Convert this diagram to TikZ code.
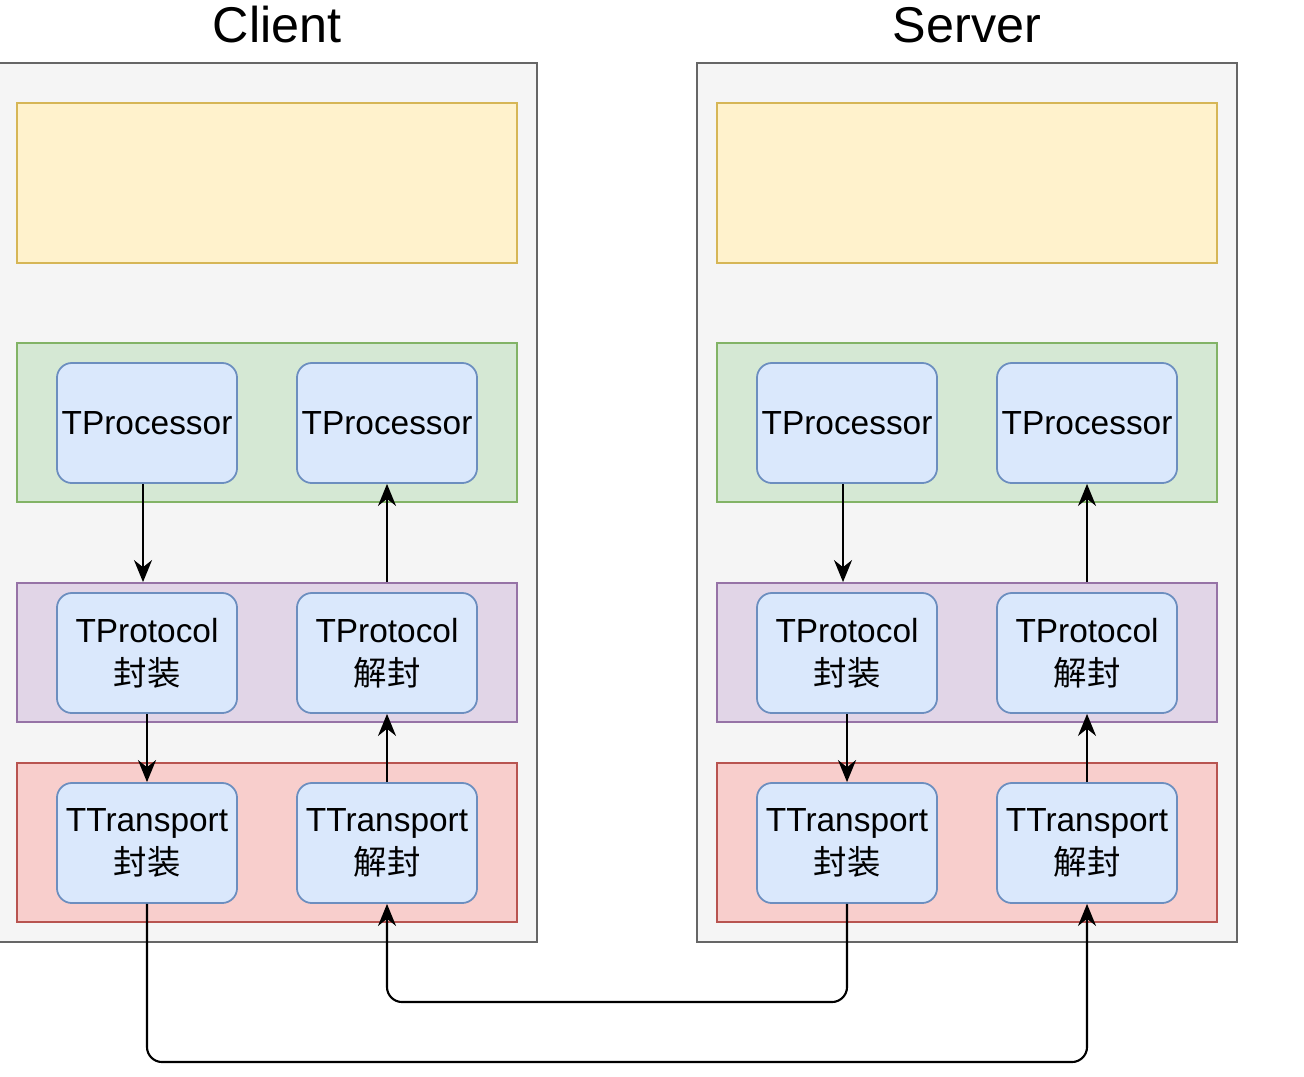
\documentclass[tikz,border=0pt]{standalone}
\usepackage{fontspec}
\setmainfont{Liberation Sans}
\newfontfamily\cjk{Noto Sans CJK SC}
\usetikzlibrary{calc,arrows.meta}

\definecolor{panelfill}{HTML}{F5F5F5}\definecolor{panelline}{HTML}{666666}
\definecolor{yellowfill}{HTML}{FFF2CC}\definecolor{yellowline}{HTML}{D6B656}
\definecolor{greenfill}{HTML}{D5E8D4}\definecolor{greenline}{HTML}{82B366}
\definecolor{purplefill}{HTML}{E1D5E7}\definecolor{purpleline}{HTML}{9673A6}
\definecolor{redfill}{HTML}{F8CECC}\definecolor{redline}{HTML}{B85450}
\definecolor{bluefill}{HTML}{DAE8FC}\definecolor{blueline}{HTML}{6C8EBF}

\tikzset{
  panel/.style={draw=panelline,fill=panelfill,line width=0.6pt,minimum width=5.4cm,minimum height=8.79cm},
  layer/.style={draw=#1line,fill=#1fill,line width=0.5pt,minimum width=5cm},
  block/.style={draw=blueline,fill=bluefill,line width=0.5pt,rounded corners=1.5mm,inner xsep=0pt,
    minimum width=1.8cm,minimum height=1.2cm,align=center,font=\fontsize{9.5}{12.2}\selectfont},
  link/.style={-{Stealth[length=2.2mm,width=1.8mm]},line width=0.6pt},
  title/.style={font=\fontsize{14.3}{17}\selectfont}
}

\begin{document}
\begin{tikzpicture}[x=0.01cm,y=-0.01cm]
\useasboundingbox (0,0) rectangle (1304,1076);

\node[title] (client) at (277,25) {Client};
\node[title] (server) at (967,25) {Server};

\foreach \s/\x in {c/0,s/700}{
  \node[panel] (\s-panel) at (267+\x,502.5) {};
  \node[layer=yellow,minimum height=1.6cm] (\s-app) at (267+\x,183) {};
  \node[layer=green,minimum height=1.59cm] (\s-proc) at (267+\x,422.5) {};
  \node[layer=purple,minimum height=1.39cm] (\s-prot) at (267+\x,652.5) {};
  \node[layer=red,minimum height=1.59cm] (\s-trans) at (267+\x,842.5) {};

  \node[block] (\s-procL) at (147+\x,423) {TProcessor};
  \node[block] (\s-procR) at (387+\x,423) {TProcessor};
  \node[block] (\s-protL) at (147+\x,653) {TProtocol\\{\cjk 封装}};
  \node[block] (\s-protR) at (387+\x,653) {TProtocol\\{\cjk 解封}};
  \node[block] (\s-transL) at (147+\x,843) {TTransport\\{\cjk 封装}};
  \node[block] (\s-transR) at (387+\x,843) {TTransport\\{\cjk 解封}};

  \draw[link] ($(\s-procL.south)-(4,0)$) -- ($(\s-procL.south |- \s-prot.north)-(4,0)$);
  \draw[link] (\s-procR.south |- \s-prot.north) -- (\s-procR.south);
  \draw[link] (\s-protL.south) -- (\s-transL.north);
  \draw[link] (\s-transR.north) -- (\s-protR.south);
}

% wire between the two sides
\coordinate (lowA) at (0,1002);
\coordinate (lowB) at (0,1062);
\draw[link,rounded corners=1.5mm] (s-transL.south) -- (s-transL.south |- lowA) -- (c-transR.south |- lowA) -- (c-transR.south);
\draw[link,rounded corners=1.5mm] (c-transL.south) -- (c-transL.south |- lowB) -- (s-transR.south |- lowB) -- (s-transR.south);

\end{tikzpicture}
\end{document}
